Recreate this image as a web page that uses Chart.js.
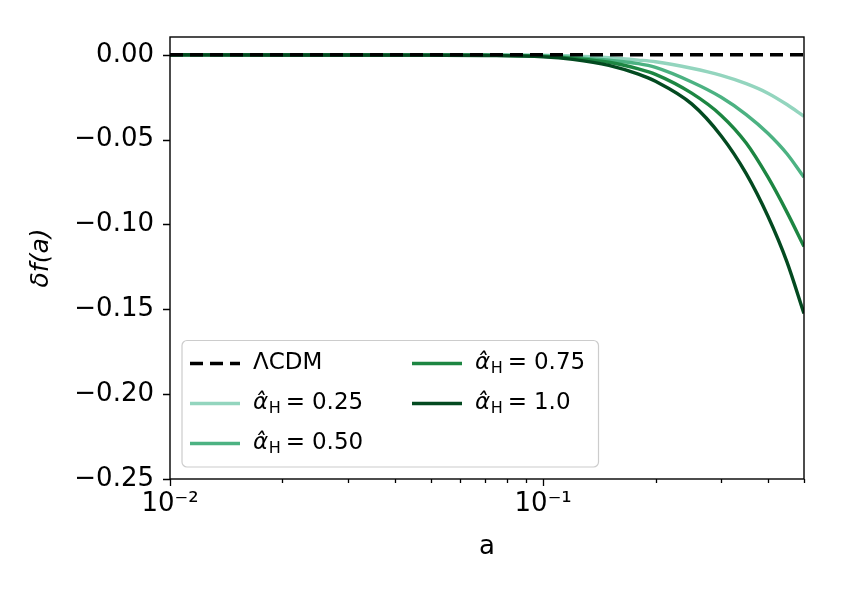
<!DOCTYPE html>
<html>
<head>
<meta charset="utf-8">
<script src="https://cdn.jsdelivr.net/npm/chart.js@4.4.1/dist/chart.umd.min.js"></script>
<style>
  html, body { margin: 0; padding: 0; background: #ffffff; }
  canvas { display: block; }
</style>
</head>
<body>
<canvas id="c" width="843" height="590"></canvas>
<script>
// ---- data ----
const aValues = [0.01, 0.02, 0.03, 0.05, 0.07, 0.1, 0.12, 0.15, 0.18, 0.2, 0.25, 0.3, 0.35, 0.4, 0.45, 0.5];
const lcdm    = [0, 0, 0, 0, 0, 0, 0, 0, 0, 0, 0, 0, 0, 0, 0, 0];
const alpha025 = [0, 0, 0, -0.0001, -0.0001, -0.0003, -0.0007, -0.0017, -0.0031, -0.0041, -0.0079, -0.0121, -0.0170, -0.0226, -0.0293, -0.0362];
const alpha050 = [0, 0, -0.0001, -0.0001, -0.0002, -0.0006, -0.0015, -0.0032, -0.0052, -0.0074, -0.0160, -0.0250, -0.0352, -0.0462, -0.0583, -0.0722];
const alpha075 = [0, -0.0001, -0.0001, -0.0002, -0.0003, -0.0009, -0.0021, -0.0044, -0.0083, -0.0115, -0.0226, -0.0357, -0.0520, -0.0720, -0.0927, -0.1130];
const alpha100 = [0, -0.0001, -0.0001, -0.0002, -0.0004, -0.0012, -0.0027, -0.0062, -0.0114, -0.0156, -0.0289, -0.0478, -0.0700, -0.0950, -0.1220, -0.1525];

const seriesLabels = ['\u039BCDM', '\u03B1\u0302_H = 0.25', '\u03B1\u0302_H = 0.50', '\u03B1\u0302_H = 0.75', '\u03B1\u0302_H = 1.0'];
const seriesColors = ['#000000', '#93d5be', '#4cb282', '#1d8642', '#034a20'];

const xTickValues = [0.01, 0.02, 0.03, 0.04, 0.05, 0.06, 0.07, 0.08, 0.09, 0.1, 0.2, 0.3, 0.4, 0.5];
const xMajorTicks = [0.01, 0.1];
const xTickLabels = {0.01: '10\u207B\u00B2', 0.1: '10\u207B\u00B9'};
const yTickValues = [-0.25, -0.20, -0.15, -0.10, -0.05, 0.00];

const FONT = '"DejaVu Sans", "Liberation Sans", sans-serif';

function toPoints(ys) { return aValues.map((a, i) => ({x: a, y: ys[i]})); }
const allSeries = [lcdm, alpha025, alpha050, alpha075, alpha100];

const datasets = allSeries.map((ys, i) => ({
  label: seriesLabels[i],
  data: toPoints(ys),
  borderColor: seriesColors[i],
  backgroundColor: seriesColors[i],
  borderWidth: 3.4,
  borderDash: i === 0 ? [13, 7] : [],
  pointRadius: 0,
  fill: false,
  cubicInterpolationMode: i === 0 ? 'default' : 'monotone',
  order: i === 0 ? -1 : 5 - i
}));

function drawLabel(ctx, label, x, y, size) {
  ctx.fillStyle = '#000';
  ctx.textBaseline = 'middle';
  ctx.textAlign = 'left';
  if (label.indexOf('_H') >= 0) {
    const num = label.split('=')[1].trim();
    ctx.font = `italic ${size}px ${FONT}`;
    ctx.fillText('\u03B1\u0302', x, y);
    x += ctx.measureText('\u03B1').width + 0.5;
    ctx.font = `${Math.round(size * 0.7)}px ${FONT}`;
    ctx.fillText('H', x, y + size * 0.25);
    x += ctx.measureText('H').width + 5;
    ctx.font = `${size}px ${FONT}`;
    ctx.fillText('=', x, y);
    x += ctx.measureText('=').width + 7;
    ctx.fillText(num, x, y);
  } else {
    ctx.font = `${size}px ${FONT}`;
    ctx.fillText(label, x, y);
  }
}

const framePlugin = {
  id: 'frame',
  afterDraw(chart) {
    const ctx = chart.ctx;
    const ca = chart.chartArea;
    const xs = chart.scales.x, ys = chart.scales.y;
    ctx.save();
    // ticks
    ctx.strokeStyle = '#000';
    ctx.lineWidth = 1.3;
    ctx.beginPath();
    xTickValues.forEach(v => {
      const px = Math.round(xs.getPixelForValue(v)) + 0.5;
      const len = xMajorTicks.includes(v) ? 7 : 4;
      ctx.moveTo(px, ca.bottom);
      ctx.lineTo(px, ca.bottom + len);
    });
    yTickValues.forEach(v => {
      const py = Math.round(ys.getPixelForValue(v)) + 0.5;
      ctx.moveTo(ca.left, py);
      ctx.lineTo(ca.left - 7, py);
    });
    ctx.stroke();
    // frame
    ctx.lineWidth = 1.4;
    ctx.strokeRect(ca.left, ca.top, ca.right - ca.left, ca.bottom - ca.top);

    // legend
    const bx = ca.left + 12, by = ca.bottom - 12 - 126.5, bw = 416.5, bh = 126.5;
    ctx.beginPath();
    if (ctx.roundRect) ctx.roundRect(bx, by, bw, bh, 5); else ctx.rect(bx, by, bw, bh);
    ctx.fillStyle = 'rgba(255,255,255,0.85)';
    ctx.fill();
    ctx.strokeStyle = '#cccccc';
    ctx.lineWidth = 1.2;
    ctx.stroke();

    const layout = [[0, 0, 0], [1, 0, 1], [2, 0, 2], [3, 1, 0], [4, 1, 1]];
    const colX = [bx + 8, bx + 230];
    const rowY = [by + 23, by + 63, by + 103];
    layout.forEach(([di, col, row]) => {
      const ds = chart.data.datasets[di];
      const x0 = colX[col], y0 = rowY[row];
      ctx.beginPath();
      ctx.strokeStyle = ds.borderColor;
      ctx.lineWidth = 3.4;
      ctx.setLineDash(ds.borderDash || []);
      ctx.moveTo(x0, y0);
      ctx.lineTo(x0 + 50, y0);
      ctx.stroke();
      ctx.setLineDash([]);
      drawLabel(ctx, ds.label, x0 + 63, y0, 23);
    });
    ctx.restore();
  }
};

new Chart(document.getElementById('c'), {
  type: 'line',
  data: { datasets },
  options: {
    responsive: false,
    animation: false,
    devicePixelRatio: 1,
    layout: { padding: { left: 0, right: 39, top: 37, bottom: 0 } },
    plugins: { legend: { display: false }, tooltip: { enabled: false } },
    scales: {
      x: {
        type: 'logarithmic',
        min: 0.01,
        max: 0.5,
        afterBuildTicks: s => { s.ticks = xTickValues.map(v => ({ value: v, major: xMajorTicks.includes(v) })); },
        afterFit: s => { s.height = 111; },
        ticks: {
          autoSkip: false, maxRotation: 0, minRotation: 0, padding: 3,
          color: '#000', font: { family: FONT, size: 26 },
          callback: v => xTickLabels[v] || ''
        },
        grid: { display: true, drawOnChartArea: false, drawTicks: true, tickLength: 7, color: 'rgba(0,0,0,0)' },
        border: { display: false },
        title: { display: true, text: 'a', color: '#000', font: { family: FONT, size: 26 }, padding: { top: 0, bottom: 27 } }
      },
      y: {
        type: 'linear',
        min: -0.25,
        max: 0.0105,
        afterBuildTicks: s => { s.ticks = yTickValues.map(v => ({ value: v })); },
        afterFit: s => { s.width = 170; },
        ticks: {
          padding: 9, color: '#000', font: { family: FONT, size: 26 },
          callback: v => (Math.abs(v) < 1e-9 ? '0.00' : '\u2212' + Math.abs(v).toFixed(2))
        },
        grid: { display: true, drawOnChartArea: false, drawTicks: true, tickLength: 7, color: 'rgba(0,0,0,0)' },
        border: { display: false },
        title: { display: true, text: '\u03B4f(a)', color: '#000', font: { family: FONT, size: 25, style: 'italic' }, padding: { top: 26, bottom: 0 } }
      }
    }
  },
  plugins: [framePlugin]
});
</script>
</body>
</html>
